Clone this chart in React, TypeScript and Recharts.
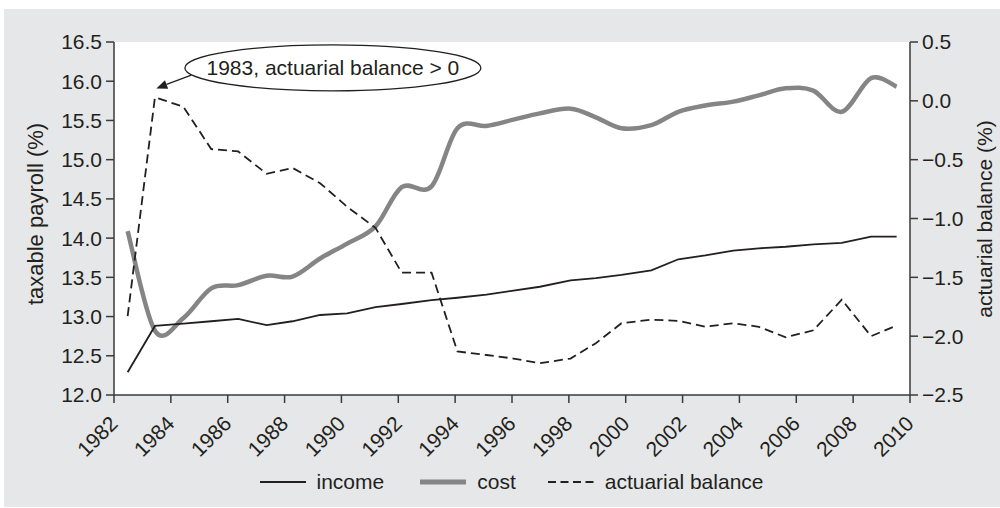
// Social Security income vs cost (% of taxable payroll) with actuarial balance on a second axis
import { LineChart, Line, XAxis, YAxis, CartesianGrid, Legend, ReferenceDot } from 'recharts';

const years = [
  1982.48, 1983.44, 1984.44, 1985.42, 1986.37, 1987.37, 1988.28, 1989.25, 1990.2, 1991.2,
  1992.12, 1993.17, 1994.08, 1995.1, 1996.05, 1996.98, 1998.06, 1998.95, 1999.85, 2000.9,
  2001.85, 2002.8, 2003.78, 2004.68, 2005.63, 2006.6, 2007.6, 2008.63, 2009.53,
];
const income = [
  12.29, 12.88, 12.91, 12.94, 12.97, 12.89, 12.94, 13.02, 13.04, 13.12,
  13.16, 13.21, 13.24, 13.28, 13.33, 13.38, 13.46, 13.49, 13.53, 13.59,
  13.73, 13.78, 13.84, 13.87, 13.89, 13.92, 13.94, 14.02, 14.02,
];
const cost = [
  14.09, 12.82, 12.98, 13.36, 13.4, 13.52, 13.51, 13.74, 13.93, 14.15,
  14.65, 14.66, 15.4, 15.43, 15.51, 15.59, 15.65, 15.54, 15.4, 15.44,
  15.61, 15.69, 15.74, 15.82, 15.91, 15.88, 15.61, 16.04, 15.93,
];
const balance = [
  -1.83, 0.03, -0.05, -0.41, -0.43, -0.62, -0.57, -0.7, -0.9, -1.08,
  -1.46, -1.46, -2.13, -2.16, -2.19, -2.23, -2.19, -2.06, -1.89, -1.86,
  -1.87, -1.92, -1.89, -1.92, -2.01, -1.95, -1.69, -2.0, -1.91,
];

const xTicks = [1982, 1984, 1986, 1988, 1990, 1992, 1994, 1996, 1998, 2000, 2002, 2004, 2006, 2008, 2010];
const leftTicks = [12, 12.5, 13, 13.5, 14, 14.5, 15, 15.5, 16, 16.5];
const rightTicks = [-2.5, -2, -1.5, -1, -0.5, 0, 0.5];

const callout = { year: 1989.7, value: 0.28, text: '1983, actuarial balance > 0' };

const data = years.map((year, i) => ({
  year,
  income: income[i],
  cost: cost[i],
  balance: balance[i],
}));

const INK = '#231f20';
const AXIS = '#3a3a3a';
const GREY = '#858585';
const FONT = '"Liberation Sans", Arial, sans-serif';

// Catmull-Rom style curve (d3 curve interface) so the cost line bends smoothly through its points
const smoothCurve = (context: any) => {
  let pts: number[][] = [];
  return {
    areaStart() {},
    areaEnd() {},
    lineStart() {
      pts = [];
    },
    point(x: number, y: number) {
      pts.push([+x, +y]);
    },
    lineEnd() {
      if (!pts.length) return;
      context.moveTo(pts[0][0], pts[0][1]);
      for (let i = 0; i < pts.length - 1; i++) {
        const p0 = pts[i - 1] || pts[i];
        const p1 = pts[i];
        const p2 = pts[i + 1];
        const p3 = pts[i + 2] || p2;
        context.bezierCurveTo(
          p1[0] + (p2[0] - p0[0]) / 6,
          p1[1] + (p2[1] - p0[1]) / 6,
          p2[0] - (p3[0] - p1[0]) / 6,
          p2[1] - (p3[1] - p1[1]) / 6,
          p2[0],
          p2[1],
        );
      }
    },
  };
};

const XTick = ({ x, y, payload }: any) => (
  <g transform={`translate(${x + 5},${y + 20}) rotate(-45)`}>
    <text x={0} y={0} textAnchor="end" fontSize={21} fill={INK} fontFamily={FONT}>
      {payload.value}
    </text>
  </g>
);

const AxisTitle = ({ x, y, text, size }: { x: number; y: number; text: string; size: number }) => (
  <text x={x} y={y} transform={`rotate(-90 ${x} ${y})`} textAnchor="middle" fontSize={size} fill={INK} fontFamily={FONT}>
    {text}
  </text>
);

const Callout = ({ cx, cy }: any) => {
  const sx = cx - 141.6;
  const sy = cy + 7.2;
  const tx = cx - 176.6;
  const ty = cy + 20.5;
  const dx = tx - sx;
  const dy = ty - sy;
  const len = Math.hypot(dx, dy);
  const ux = dx / len;
  const uy = dy / len;
  const bx = tx - 11 * ux;
  const by = ty - 11 * uy;
  const nx = uy;
  const ny = -ux;
  return (
    <g>
      <ellipse cx={cx} cy={cy} rx={148} ry={23} fill="#fff" stroke={INK} strokeWidth={1.3} />
      <text x={cx} y={cy + 7.5} textAnchor="middle" fontSize={21} fill={INK} fontFamily={FONT}>
        {callout.text}
      </text>
      <line x1={sx} y1={sy} x2={bx} y2={by} stroke={INK} strokeWidth={1.3} />
      <polygon
        points={`${tx},${ty} ${bx + 4.5 * nx},${by + 4.5 * ny} ${bx - 4.5 * nx},${by - 4.5 * ny}`}
        fill={INK}
      />
    </g>
  );
};

const LegendIcon = ({ color, width, dash }: { color: string; width: number; dash?: string }) => (
  <svg width={46} height={10} style={{ display: 'block' }}>
    <line x1={0} y1={5} x2={46} y2={5} stroke={color} strokeWidth={width} strokeDasharray={dash} />
  </svg>
);

const legendItems = [
  { label: 'income', color: INK, width: 2, dash: undefined, gap: 0 },
  { label: 'cost', color: GREY, width: 5, dash: undefined, gap: 36 },
  { label: 'actuarial balance', color: INK, width: 2, dash: '8 4.5', gap: 32 },
];

const ChartLegend = () => (
  <div
    style={{
      height: 30,
      display: 'flex',
      justifyContent: 'center',
      alignItems: 'center',
      paddingLeft: 23,
      fontFamily: FONT,
      fontSize: 21,
      color: INK,
    }}
  >
    {legendItems.map((item) => (
      <div key={item.label} style={{ display: 'flex', alignItems: 'center', marginLeft: item.gap }}>
        <LegendIcon color={item.color} width={item.width} dash={item.dash} />
        <span style={{ marginLeft: 11, whiteSpace: 'nowrap' }}>{item.label}</span>
      </div>
    ))}
  </div>
);

export default function App() {
  return (
    <div style={{ position: 'absolute', left: 0, top: 0, width: 1000, height: 508, fontFamily: FONT }}>
      <div style={{ position: 'absolute', left: 4, top: 9, width: 996, height: 498, background: '#e6e7e8' }} />
      <div style={{ position: 'absolute', left: 0, top: 0 }}>
        <LineChart width={1000} height={508} data={data} margin={{ top: 42, right: 0, bottom: 11, left: 0 }}>
          <CartesianGrid horizontal={false} vertical={false} fill="#fff" fillOpacity={1} />
          <XAxis
            dataKey="year"
            type="number"
            domain={[1982, 2010]}
            ticks={xTicks}
            height={72}
            interval={0}
            tickSize={8}
            stroke={AXIS}
            strokeWidth={1.5}
            tick={<XTick />}
          />
          <YAxis
            yAxisId="left"
            orientation="left"
            domain={[12, 16.5]}
            ticks={leftTicks}
            width={114}
            tickSize={8}
            tickMargin={4}
            stroke={AXIS}
            strokeWidth={1.5}
            tick={{ fill: INK, fontSize: 21, fontFamily: FONT }}
            tickFormatter={(v: number) => v.toFixed(1)}
            label={{
              position: 'insideLeft',
              content: (p: any) => {
                const vb = p.viewBox || { x: 0, y: 42, width: 114, height: 353 };
                return <AxisTitle x={vb.x + 43} y={vb.y + vb.height / 2 - 4.5} text="taxable payroll (%)" size={22} />;
              },
            }}
          />
          <YAxis
            yAxisId="right"
            orientation="right"
            domain={[-2.5, 0.5]}
            ticks={rightTicks}
            width={90}
            tickSize={8}
            tickMargin={4}
            stroke={AXIS}
            strokeWidth={1.5}
            tick={{ fill: INK, fontSize: 21, fontFamily: FONT }}
            tickFormatter={(v: number) => v.toFixed(1).replace('-', '\u2212')}
            label={{
              position: 'insideRight',
              content: (p: any) => {
                const vb = p.viewBox || { x: 910, y: 42, width: 90, height: 353 };
                return <AxisTitle x={vb.x + 81.5} y={vb.y + vb.height / 2 + 0.5} text="actuarial balance (%)" size={21} />;
              },
            }}
          />
          <Legend verticalAlign="bottom" content={<ChartLegend />} wrapperStyle={{ left: 0, width: 1000 }} />
          <Line
            yAxisId="left"
            type={smoothCurve as any}
            dataKey="cost"
            stroke={GREY}
            strokeWidth={4.5}
            dot={false}
            isAnimationActive={false}
          />
          <Line
            yAxisId="left"
            type="linear"
            dataKey="income"
            stroke={INK}
            strokeWidth={1.8}
            dot={false}
            isAnimationActive={false}
          />
          <Line
            yAxisId="right"
            type="linear"
            dataKey="balance"
            stroke={INK}
            strokeWidth={1.8}
            strokeDasharray="9 5"
            dot={false}
            isAnimationActive={false}
          />
          <ReferenceDot
            yAxisId="right"
            x={callout.year}
            y={callout.value}
            ifOverflow="visible"
            shape={(p: any) => <Callout cx={p.cx} cy={p.cy} />}
          />
        </LineChart>
      </div>
    </div>
  );
}
